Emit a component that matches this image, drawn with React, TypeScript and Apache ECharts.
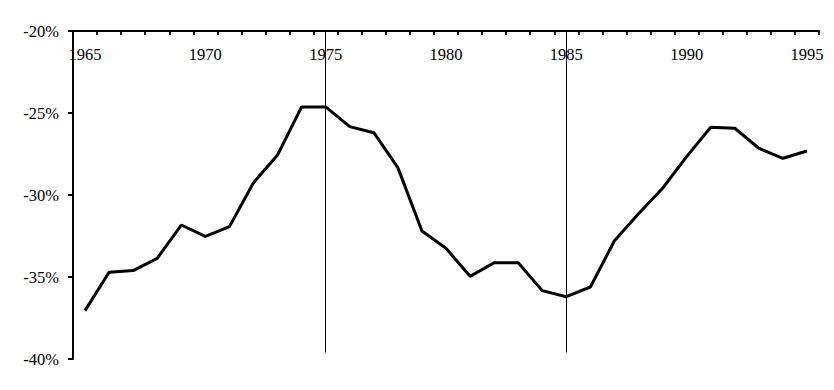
import React, { useEffect, useRef } from "react";
import * as echarts from "echarts";

const years: string[] = [
  "1965", "1966", "1967", "1968", "1969", "1970", "1971", "1972", "1973", "1974",
  "1975", "1976", "1977", "1978", "1979", "1980", "1981", "1982", "1983", "1984",
  "1985", "1986", "1987", "1988", "1989", "1990", "1991", "1992", "1993", "1994", "1995",
];

const values: number[] = [
  -37.05, -34.71, -34.61, -33.86, -31.83, -32.52, -31.93, -29.25, -27.56, -24.63,
  -24.63, -25.83, -26.2, -28.33, -32.2, -33.25, -34.96, -34.13, -34.13, -35.83,
  -36.2, -35.61, -32.79, -31.14, -29.59, -27.66, -25.87, -25.93, -27.15, -27.76, -27.32,
];

const markerYears: string[] = ["1975", "1985"];
const markerBottom = -39.6;

const yMin = -40;
const yMax = -20;
const yStep = 5;

export default function App() {
  const ref = useRef<HTMLDivElement>(null);

  useEffect(() => {
    if (!ref.current) return;
    const chart = echarts.init(ref.current, null, { renderer: "svg" });
    const font = "'Liberation Serif', 'Times New Roman', serif";
    chart.setOption({
      animation: false,
      backgroundColor: "#ffffff",
      grid: { left: 73, right: 15, top: 31, bottom: 31, containLabel: false },
      xAxis: {
        type: "category",
        data: years,
        position: "top",
        boundaryGap: true,
        axisLine: { show: true, onZero: false, lineStyle: { color: "#000", width: 2 } },
        axisTick: { show: true, inside: true, length: 4, interval: 0, alignWithLabel: false, lineStyle: { color: "#000", width: 2 } },
        axisLabel: {
          show: true,
          inside: true,
          interval: 4,
          margin: 15,
          color: "#000",
          fontFamily: font,
          fontSize: 16.5,
        },
        splitLine: { show: false },
      },
      yAxis: {
        type: "value",
        min: yMin,
        max: yMax,
        interval: yStep,
        axisLine: { show: true, lineStyle: { color: "#000", width: 2 } },
        axisTick: { show: true, inside: false, length: 5, lineStyle: { color: "#000", width: 2 } },
        axisLabel: {
          color: "#000",
          fontFamily: font,
          fontSize: 16.5,
          margin: 14,
          formatter: (v: number) => `${v}%`,
        },
        splitLine: { show: false },
      },
      series: [
        {
          type: "line",
          data: values,
          symbol: "none",
          lineStyle: { color: "#000", width: 3 },
          z: 3,
          markLine: {
            silent: true,
            symbol: "none",
            label: { show: false },
            lineStyle: { color: "#000", width: 1, type: "solid" },
            data: markerYears.map((y) => [
              { coord: [y, yMax] },
              { coord: [y, markerBottom] },
            ]),
          },
        },
      ],
    });
    return () => chart.dispose();
  }, []);

  return <div ref={ref} style={{ width: 834, height: 390, position: "absolute", left: 0, top: 0 }} />;
}
